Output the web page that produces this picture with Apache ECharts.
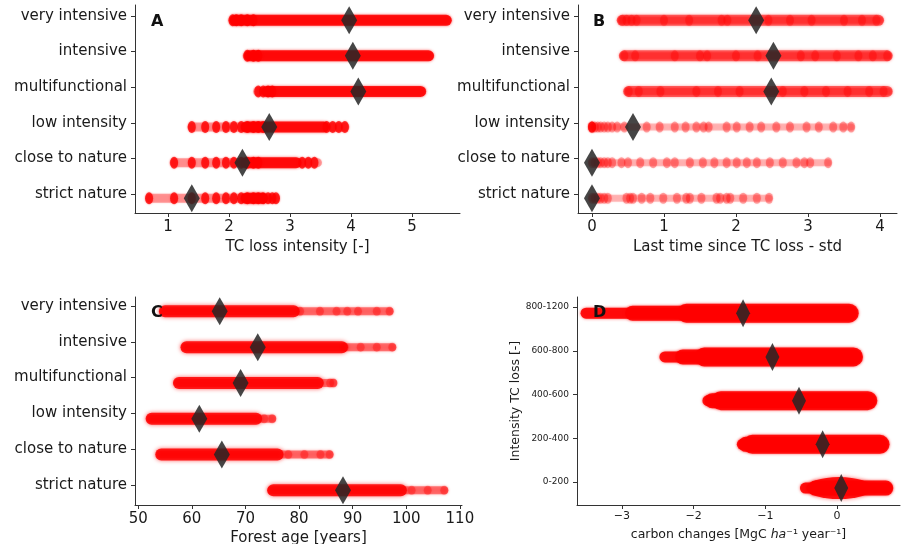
<!DOCTYPE html>
<html><head><meta charset="utf-8">
<script src="https://cdn.jsdelivr.net/npm/echarts@6/dist/echarts.min.js"></script>
<style>html,body{margin:0;padding:0;background:#fff}#c{width:902px;height:544px}</style>
</head><body><div id="c"></div>
<script>
// ---------- categories & ticks ----------
const mgmtCats = ['very intensive','intensive','multifunctional','low intensity','close to nature','strict nature'];
const lossCats = ['800-1200','600-800','400-600','200-400','0-200'];
const aTicks = [1,2,3,4,5];
const bTicks = [0,1,2,3,4];
const cTicks = [50,60,70,80,90,100,110];
const dTicks = [-3,-2,-1,0];

// ---------- Panel A: TC loss intensity ----------
const aRange = [[2.06,5.58],[2.30,5.29],[2.47,5.16],[1.39,3.90],[1.10,3.45],[0.70,2.76]];
const aDense = [[2.10,5.56],[2.34,5.27],[2.62,5.14],[2.28,3.55],[2.28,3.10],[2.28,2.55]];
const aMean  = [3.97,4.03,4.12,2.66,2.22,1.39];
const aDots = [
  [2.06,2.12,2.20,2.30,2.40],
  [2.30,2.40,2.48],
  [2.48,2.56,2.64,2.71],
  [1.39,1.61,1.79,1.95,2.08,2.20,2.30,2.40,2.48,2.56,3.6,3.7,3.8,3.9],
  [1.10,1.39,1.61,1.79,1.95,2.08,2.20,2.30,2.40,2.48,3.2,3.3,3.4],
  [0.69,1.10,1.39,1.61,1.79,1.95,2.08,2.20,2.30,2.40,2.48,2.56,2.64,2.71,2.77]
];

// ---------- Panel B: last time since TC loss ----------
const bRange = [[0.40,4.00],[0.43,4.12],[0.49,4.12],[0.00,3.60],[0.00,3.28],[0.00,2.46]];
const bDense = [[0.42,3.98],[0.45,4.10],[0.51,4.10],null,null,null];
const bMean  = [2.28,2.52,2.49,0.57,0.00,0.00];
const bDots = [
  [0.42,0.48,0.55,0.62,1.00,1.35,1.80,1.88,2.45,2.75,3.05,3.50,3.75,3.95],
  [0.45,0.60,1.15,1.50,1.60,2.00,2.30,2.90,3.10,3.40,3.70,3.90,4.10],
  [0.51,0.65,0.95,1.45,1.75,2.05,2.65,2.95,3.25,3.55,3.85,4.05],
  [0.00,0.00,0.00,0.00,0.00,0.04,0.08,0.12,0.17,0.22,0.28,0.35,0.45,0.76,0.94,1.15,1.30,1.45,1.55,1.62,1.87,2.01,2.19,2.35,2.56,2.75,2.98,3.15,3.35,3.49,3.60],
  [0.00,0.04,0.08,0.12,0.17,0.22,0.28,0.41,0.50,0.67,0.85,1.04,1.15,1.36,1.54,1.70,1.87,2.01,2.15,2.29,2.47,2.65,2.84,2.95,3.03,3.28],
  [0.00,0.04,0.08,0.12,0.17,0.22,0.48,0.53,0.57,0.69,0.81,0.99,1.18,1.31,1.36,1.52,1.73,1.78,1.87,1.92,2.10,2.29,2.46]
];

// ---------- Panel C: forest age ----------
const cRange = [[54.6,96.9],[58.8,97.4],[57.4,86.4],[52.3,75.0],[54.1,85.7],[74.8,107.1]];
const cDense = [[55.0,79.0],[59.0,88.0],[57.6,83.5],[52.5,72.0],[54.3,76.0],[75.2,99.0]];
const cMean  = [65.2,72.3,69.1,61.4,65.6,88.2];
const cDots = [
  [80.2,83.9,87.0,89.0,91.0,94.5,96.9],
  [88.5,91.5,94.5,97.4],
  [85.8,86.4],
  [73.5,75.0],
  [78.0,81.0,84.0,85.7],
  [101.0,104.0,107.1]
];

// ---------- Panel D: carbon changes ----------
const dRange = [[-3.50,0.19],[-2.40,0.25],[-1.80,0.45],[-1.32,0.62],[-0.44,0.70]];
const dMid   = [[-2.85,0.18],[-2.15,0.24],[-1.74,0.44],[-1.27,0.61],[-0.30,0.68]];
const dCore  = [[-2.10,0.17],[-1.85,0.23],[-1.62,0.43],[-1.18,0.60],null];
const dMean  = [-1.31,-0.90,-0.53,-0.20,0.06];
const dBulge = [null,null,null,null,0.03];

// ---------- styling / building ----------
const FONT = 'DejaVu Sans';
const TXT = '#1a1a1a';
const AX = '#333';
const RED = '#ff0000';
const ELL = 'path://M0,5A5,5,0,1,1,10,5A5,5,0,1,1,0,5Z';

function bands(ax, ranges, off, width, opacity, z, blur) {
  const out = [];
  ranges.forEach((r, i) => {
    if (!r) return;
    out.push({
      type: 'line', xAxisIndex: ax, yAxisIndex: ax, silent: true, animation: false,
      symbol: 'none', z: z, clip: false,
      data: [[r[0], i + off], [r[1], i + off]],
      lineStyle: { width: width, color: RED, opacity: opacity, cap: 'round',
        shadowBlur: blur || 0, shadowColor: 'rgba(255,0,0,0.7)' }
    });
  });
  return out;
}
function dots(ax, lists, off, size, opacity, blur) {
  const data = [];
  lists.forEach((l, i) => l.forEach(v => data.push([v, i + off])));
  return { type: 'scatter', xAxisIndex: ax, yAxisIndex: ax, silent: true, animation: false,
    symbol: ELL, symbolSize: size, data: data, z: 4,
    itemStyle: { color: RED, opacity: opacity, shadowBlur: blur || 0, shadowColor: 'rgba(255,0,0,0.6)' } };
}
function means(ax, vals, off, size) {
  return { type: 'scatter', xAxisIndex: ax, yAxisIndex: ax, silent: true, animation: false,
    symbol: 'diamond', symbolSize: size, z: 10,
    data: vals.map((v, i) => [v, i + off]),
    itemStyle: { color: '#262626', opacity: 0.85 } };
}
const minus = v => (v < 0 ? '\u2212' + Math.abs(v) : String(v));

function xAxis(idx, min, max, ticks, name, fs, gap, margin) {
  return {
    gridIndex: idx, type: 'value', min: min, max: max,
    axisLine: { show: true, onZero: false, lineStyle: { color: AX, width: 1 } },
    axisTick: { show: true, customValues: ticks, length: 4, lineStyle: { color: AX } },
    axisLabel: { customValues: ticks, fontSize: fs, color: TXT, fontFamily: FONT, margin: margin, formatter: minus },
    splitLine: { show: false },
    name: name, nameLocation: 'middle', nameGap: gap,
    nameTextStyle: { fontSize: fs, color: TXT, fontFamily: FONT }
  };
}
function yAxis(idx, min, max, cats, fs, extra) {
  const ticks = cats.map((c, i) => i);
  return Object.assign({
    gridIndex: idx, type: 'value', inverse: true, min: min, max: max,
    axisLine: { show: true, onZero: false, lineStyle: { color: AX, width: 1 } },
    axisTick: { show: true, customValues: ticks, length: 4, lineStyle: { color: AX } },
    axisLabel: { customValues: ticks, fontSize: fs, color: TXT, fontFamily: FONT, margin: 8,
      formatter: v => cats[Math.round(v)] },
    splitLine: { show: false }
  }, extra || {});
}

const offAB = 0.12, offC = 0.15, offD = 0.14;

const series = [].concat(
  // A
  bands(0, aRange, offAB, 9, 0.3, 2, 2),
  bands(0, aDense, offAB, 11, 0.85, 3, 3),
  [dots(0, aDots, offAB, [8, 12], 0.75, 2), means(0, aMean, offAB, [16, 28])],
  // B
  bands(1, bRange, offAB, 7, 0.2, 2, 2),
  bands(1, bDense, offAB, 11, 0.55, 3, 3),
  [dots(1, bDots, offAB, [8, 11], 0.3, 2), means(1, bMean, offAB, [16, 28])],
  // C
  bands(2, cRange, offC, 8, 0.45, 2, 3),
  bands(2, cDense, offC, 12, 0.85, 3, 4),
  [dots(2, cDots, offC, [8, 9], 0.3, 2), means(2, cMean, offC, [16, 28])],
  // D
  bands(3, dRange, offD, 11, 0.9, 2, 3),
  bands(3, dMid, offD, 15, 0.9, 2, 3),
  bands(3, dCore, offD, 19, 0.9, 3, 3),
  [{
    type: 'scatter', xAxisIndex: 3, yAxisIndex: 3, silent: true, animation: false,
    symbol: ELL, symbolSize: [66, 22], z: 4,
    data: dBulge.map((v, i) => v === null ? null : [v, i + offD]).filter(Boolean),
    itemStyle: { color: RED, opacity: 0.9, shadowBlur: 4, shadowColor: 'rgba(255,0,0,0.6)' }
  }, means(3, dMean, offD, [14, 28])]
);

const option = {
  animation: false,
  backgroundColor: '#fff',
  textStyle: { fontFamily: FONT },
  grid: [
    { left: 135, top: 5, width: 325, height: 208, containLabel: false, outerBoundsMode: 'none' },
    { left: 578, top: 5, width: 319, height: 208, containLabel: false, outerBoundsMode: 'none' },
    { left: 135, top: 297, width: 327, height: 208, containLabel: false, outerBoundsMode: 'none' },
    { left: 577, top: 297, width: 323, height: 208, containLabel: false, outerBoundsMode: 'none' }
  ],
  xAxis: [
    xAxis(0, 0.459, 5.787, aTicks, 'TC loss intensity [-]', 15, 27, 7),
    xAxis(1, -0.194, 4.236, bTicks, 'Last time since TC loss - std', 15, 27, 7),
    xAxis(2, 49.4, 110.4, cTicks, 'Forest age [years]', 15, 26, 7),
    {
      gridIndex: 3, type: 'value', min: -3.626, max: 0.879,
      axisLine: { show: true, onZero: false, lineStyle: { color: AX, width: 1 } },
      axisTick: { show: true, customValues: dTicks, length: 4, lineStyle: { color: AX } },
      axisLabel: { customValues: dTicks, fontSize: 11, color: TXT, fontFamily: FONT, margin: 6, formatter: minus },
      splitLine: { show: false },
      name: '{n|carbon changes [MgC }{i|ha}{n|\u207B\u00B9 year\u207B\u00B9]}',
      nameLocation: 'middle', nameGap: 23,
      nameTextStyle: { fontSize: 12.5, color: TXT, fontFamily: FONT,
        rich: { n: { fontSize: 12.5, color: TXT, fontFamily: FONT },
                i: { fontSize: 12.5, color: TXT, fontFamily: FONT, fontStyle: 'italic' } } }
    }
  ],
  yAxis: [
    yAxis(0, -0.309, 5.534, mgmtCats, 15),
    yAxis(1, -0.309, 5.534, mgmtCats, 15),
    yAxis(2, -0.251, 5.559, mgmtCats, 15),
    yAxis(3, -0.229, 4.526, lossCats, 9, {
      name: 'Intensity TC loss [-]', nameLocation: 'middle', nameGap: 52,
      nameTextStyle: { fontSize: 12.5, color: TXT, fontFamily: FONT }
    })
  ],
  graphic: [
    { type: 'text', left: 151, top: 14, z: 100, style: { text: 'A', font: 'bold 16px "DejaVu Sans"', fill: '#111' } },
    { type: 'text', left: 593, top: 14, z: 100, style: { text: 'B', font: 'bold 16px "DejaVu Sans"', fill: '#111' } },
    { type: 'text', left: 151, top: 305, z: 100, style: { text: 'C', font: 'bold 16px "DejaVu Sans"', fill: '#111' } },
    { type: 'text', left: 593, top: 305, z: 100, style: { text: 'D', font: 'bold 16px "DejaVu Sans"', fill: '#111' } }
  ],
  series: series
};

const chart = echarts.init(document.getElementById('c'), null, { renderer: 'canvas' });
chart.setOption(option);
</script>
</body></html>
